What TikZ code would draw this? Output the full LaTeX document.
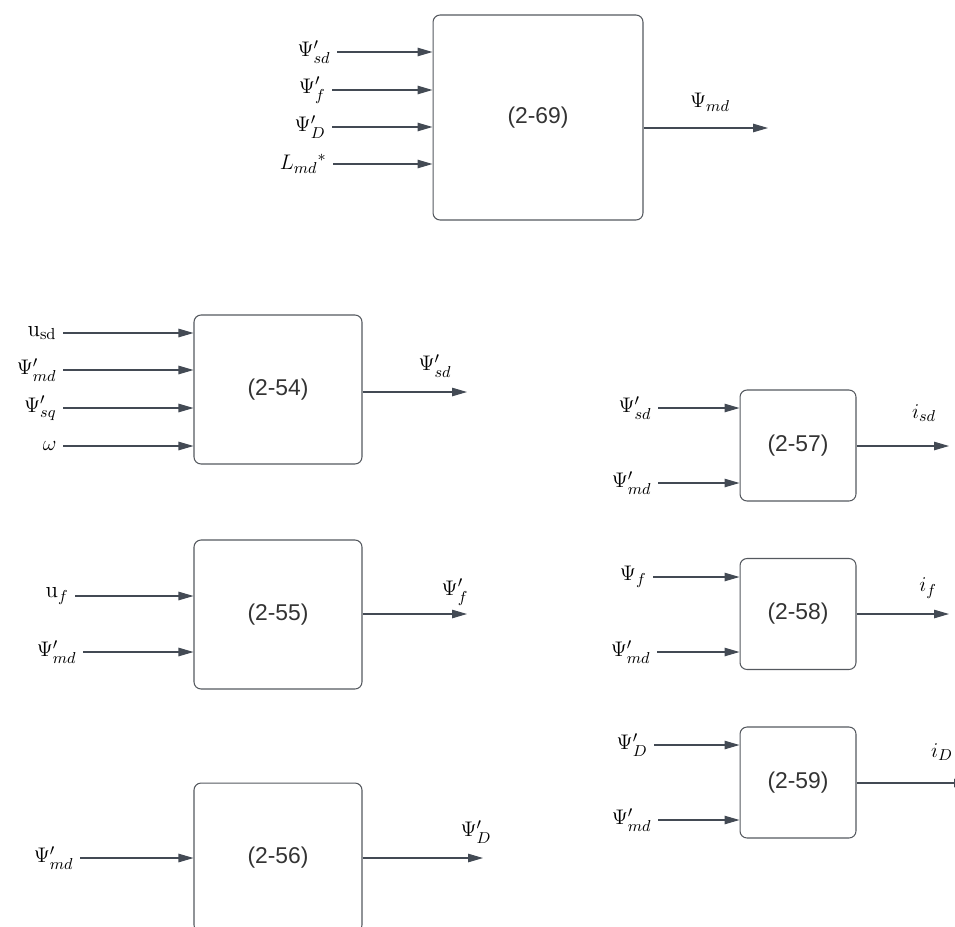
\documentclass[tikz,border=0pt]{standalone}
\usepackage{fontspec}
\usepackage{amsmath}
\newfontfamily\boxfont{Liberation Sans}
\usetikzlibrary{arrows.meta}
\definecolor{linec}{HTML}{434A54}
\definecolor{boxc}{HTML}{55595F}
\definecolor{txtc}{HTML}{333333}

\begin{document}
\begin{tikzpicture}[x = 0.02cm, y = -0.02cm,
  blk/.style = {draw = boxc, line width = 0.6pt, rounded corners = 4pt, inner sep = 0pt,
    font = \boxfont\fontsize{13}{15}\selectfont, text = txtc},
  blkbig/.style = {blk, minimum width = 4.2cm, minimum height = 4.1cm},
  blkmid/.style = {blk, minimum width = 3.36cm, minimum height = 2.98cm},
  blksmall/.style = {blk, minimum width = 2.32cm, minimum height = 2.22cm},
  lbl/.style = {font = \fontsize{13}{15}\selectfont, inner ysep = 1.5pt, inner xsep = 3.5pt},
  arr/.style = {draw = linec, line width = 0.6pt, -{Triangle[length = 0.3cm, width = 0.17cm]}}]
\clip (0,0) rectangle (955,926);
% blocks
\node[blkbig] (b69) at (538,117.5) {(2-69)};
\node[blkmid] (b54) at (278,389.5) {(2-54)};
\node[blkmid] (b55) at (278,614.5) {(2-55)};
\node[blkmid] (b56) at (278,857.5) {(2-56)};
\node[blksmall] (b57) at (798,445.5) {(2-57)};
\node[blksmall] (b58) at (798,614) {(2-58)};
\node[blksmall] (b59) at (798,782.5) {(2-59)};
% inputs
\foreach \y/\x/\t [count = \n] in {52/337/{$\Psi'_{sd}$}, 90/332/{$\Psi'_f$}, 127/332/{$\Psi'_D$}, 164/333/{$L_{md}{}^{*}$}}
{
\node[lbl, left] (a\n) at (\x,\y) {\t};
\draw[arr] (a\n.east) -- (a\n.east -| b69.west);
}
\foreach \y/\x/\t [count = \n] in {333/63/{$\mathrm{u}_{\mathrm{sd}}$}, 370/63/{$\Psi'_{md}$}, 408/63/{$\Psi'_{sq}$}, 446/63/{$\omega$}}
{
\node[lbl, left] (c\n) at (\x,\y) {\t};
\draw[arr] (c\n.east) -- (c\n.east -| b54.west);
}
\node[lbl, left] (d1) at (75,596) {$\mathrm{u}_f$};
\node[lbl, left] (d2) at (83,652) {$\Psi'_{md}$};
\draw[arr] (d1.east) -- (d1.east -| b55.west);
\draw[arr] (d2.east) -- (d2.east -| b55.west);
\node[lbl, left] (f1) at (80,858) {$\Psi'_{md}$};
\draw[arr] (f1.east) -- (f1.east -| b56.west);
\node[lbl, left] (g1) at (658,408) {$\Psi'_{sd}$};
\node[lbl, left] (g2) at (658,483) {$\Psi'_{md}$};
\draw[arr] (g1.east) -- (g1.east -| b57.west);
\draw[arr] (g2.east) -- (g2.east -| b57.west);
\node[lbl, left] (h1) at (653,577) {$\Psi_f$};
\node[lbl, left] (h2) at (657,652) {$\Psi'_{md}$};
\draw[arr] (h1.east) -- (h1.east -| b58.west);
\draw[arr] (h2.east) -- (h2.east -| b58.west);
\node[lbl, left] (k1) at (654,745) {$\Psi'_D$};
\node[lbl, left] (k2) at (658,820) {$\Psi'_{md}$};
\draw[arr] (k1.east) -- (k1.east -| b59.west);
\draw[arr] (k2.east) -- (k2.east -| b59.west);
% outputs
\coordinate (e69) at (768,128);
\coordinate (e54) at (467,392);
\coordinate (e55) at (467,614);
\coordinate (e56) at (483,858);
\coordinate (e57) at (949,446);
\coordinate (e58) at (949,614);
\coordinate (e59) at (969,783);
\foreach \b in {69,54,55,56,57,58,59}
\draw[arr] (e\b -| b\b.east) -- (e\b);
\node[lbl] (o69) at (710,102) {$\Psi_{md}$};
\node[lbl] (o54) at (435,366) {$\Psi'_{sd}$};
\node[lbl] (o55) at (455,592) {$\Psi'_f$};
\node[lbl] (o56) at (476,832) {$\Psi'_D$};
\node[lbl] (o57) at (924,413) {$i_{sd}$};
\node[lbl] (o58) at (928,588) {$i_f$};
\node[lbl] (o59) at (942,752) {$i_D$};
\end{tikzpicture}
\end{document}
